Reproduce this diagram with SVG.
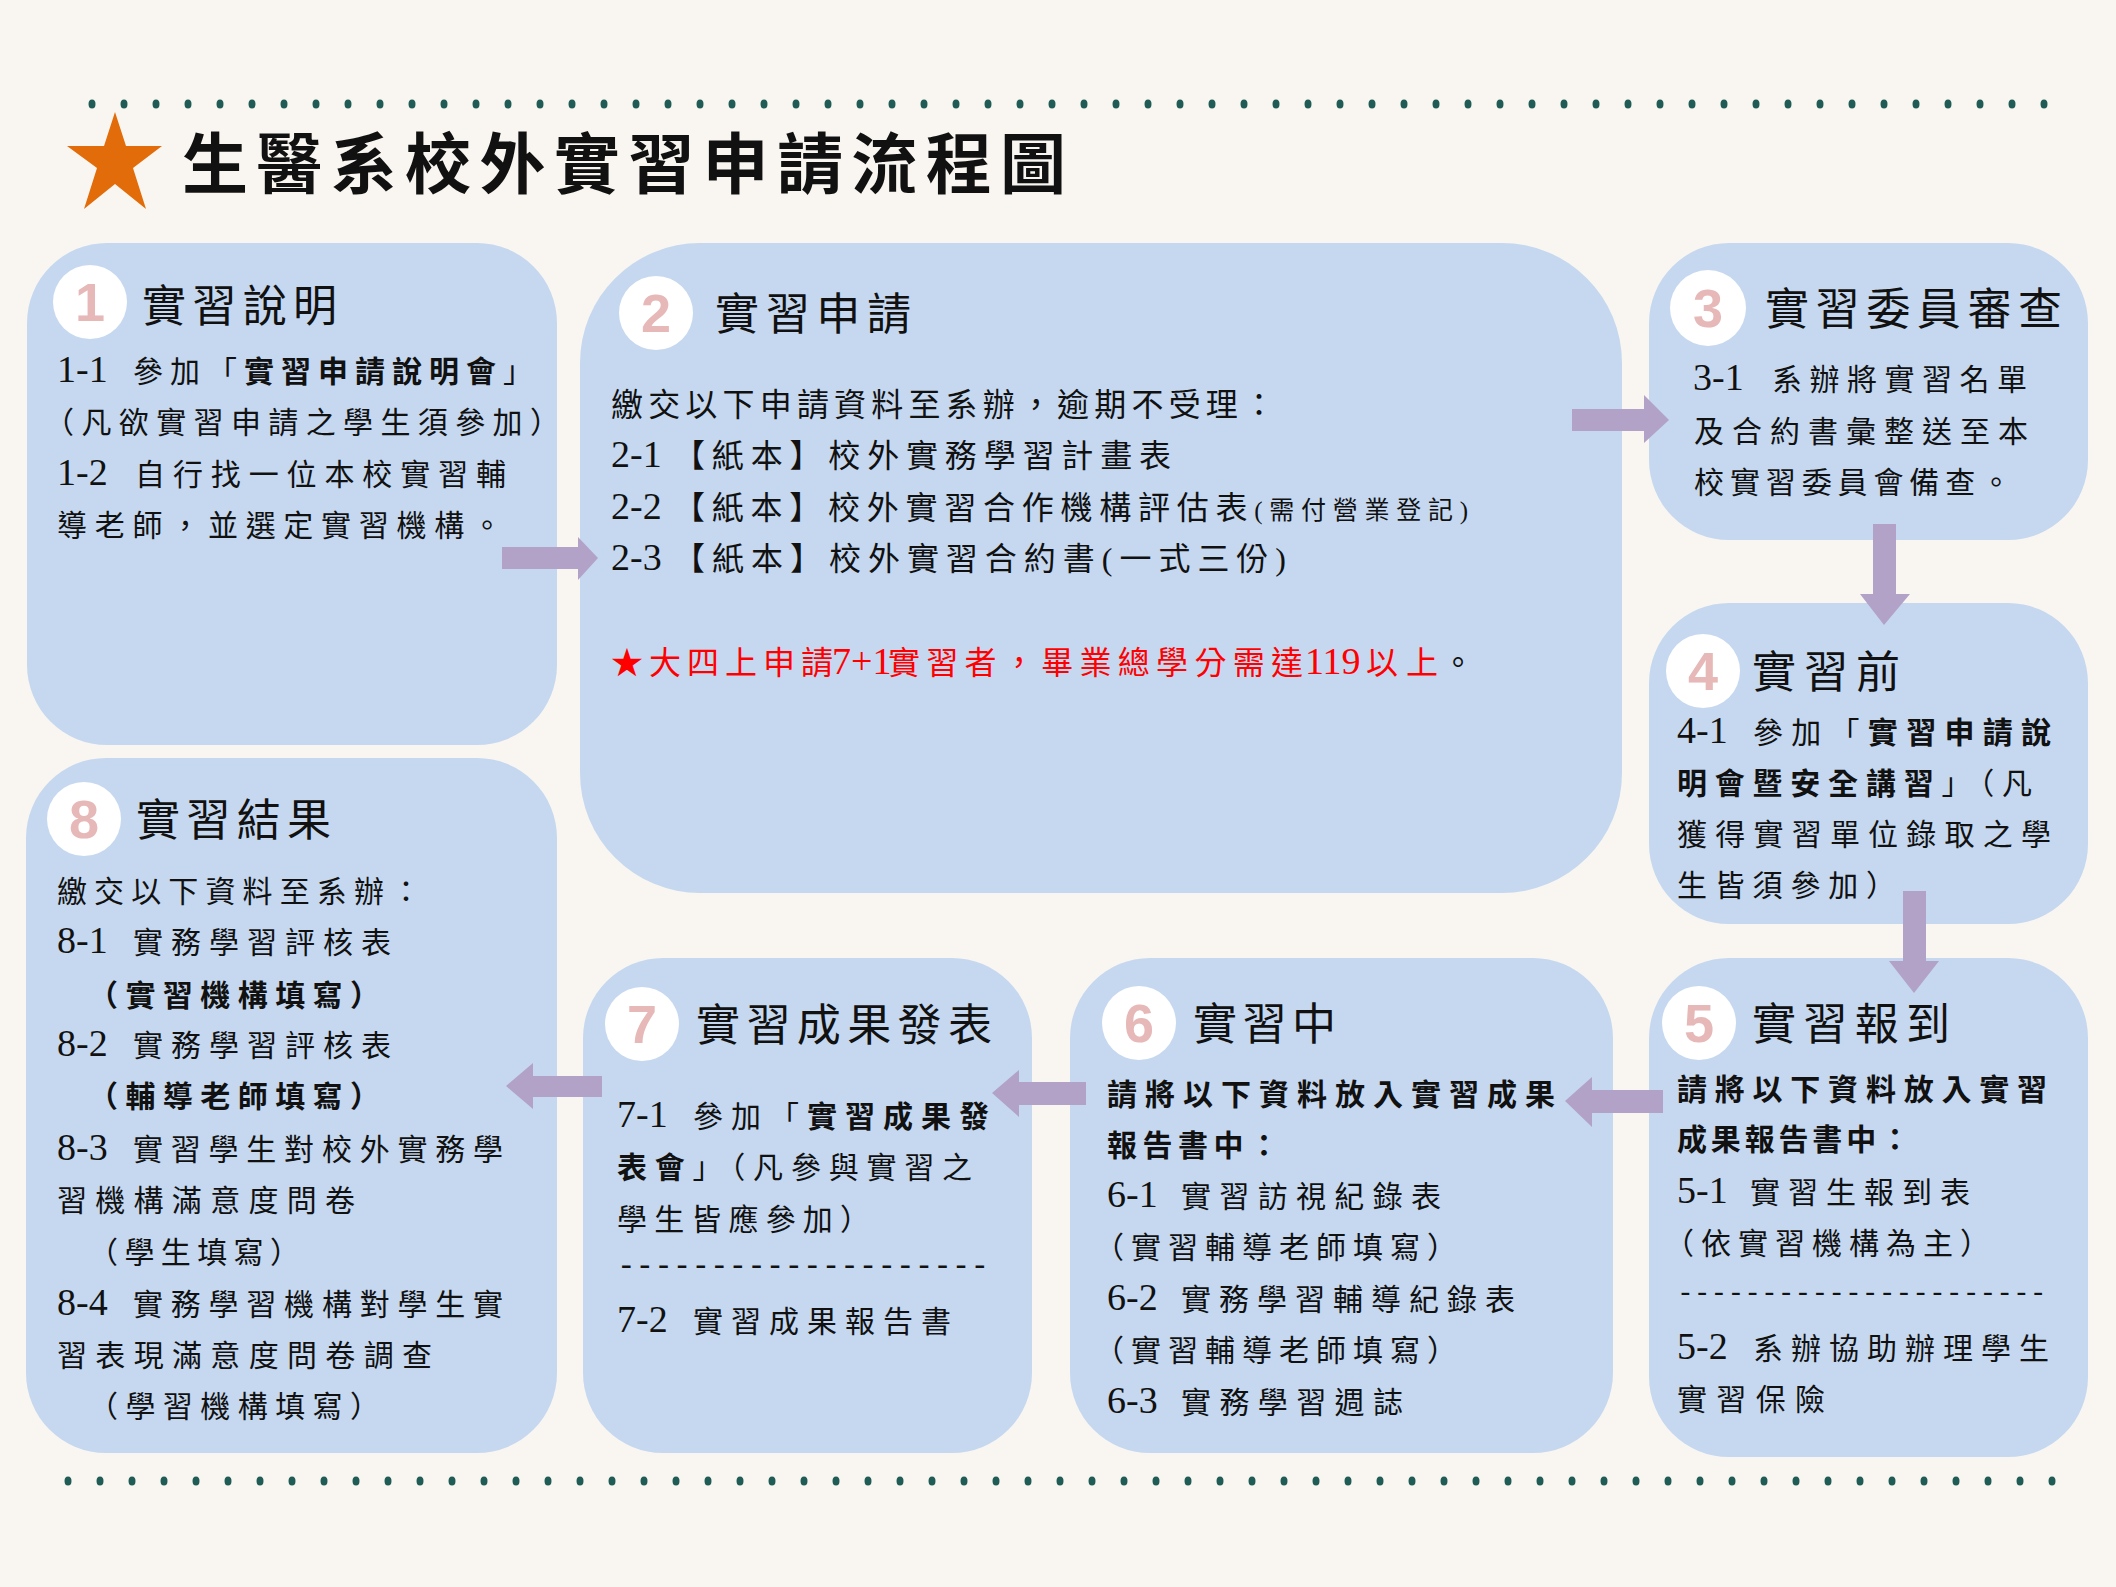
<svg xmlns="http://www.w3.org/2000/svg" width="2116" height="1587" viewBox="0 0 2116 1587">
<defs>
<style>
.bg{fill:#F9F6F1}
.box{fill:#C5D8F0}
.dot{fill:#1F5C55}
.circ{fill:#FFFFFF}
.num{font-family:"Liberation Sans","Noto Sans CJK TC",sans-serif;font-weight:700;font-size:54px;fill:#E6B8B7;text-anchor:middle}
.h{font-family:"Noto Sans CJK TC",sans-serif;font-size:44px;fill:#111}
.t{font-family:"Liberation Serif","Noto Sans CJK TC",serif;font-size:30px;fill:#111}
.t2{font-family:"Liberation Serif","Noto Sans CJK TC",serif;font-size:32px;fill:#111}
.d{font-family:"Liberation Serif",serif;font-size:38px;fill:#111}
.dash{font-family:"Liberation Mono",monospace;fill:#111}
.b{font-weight:700}
.red{fill:#FF0000}
.arr{fill:#B3A2C7}
.title{font-family:"Noto Sans CJK TC",sans-serif;font-size:66px;font-weight:700;fill:#111}
</style>
</defs>
<rect class="bg" x="0" y="0" width="2116" height="1587"/>
<g id="decor">
<g id="toprow" class="dot">
<ellipse cx="92" cy="104" rx="3.5" ry="4.5"/><ellipse cx="124" cy="104" rx="3.5" ry="4.5"/><ellipse cx="156" cy="104" rx="3.5" ry="4.5"/><ellipse cx="188" cy="104" rx="3.5" ry="4.5"/><ellipse cx="220" cy="104" rx="3.5" ry="4.5"/><ellipse cx="252" cy="104" rx="3.5" ry="4.5"/><ellipse cx="284" cy="104" rx="3.5" ry="4.5"/><ellipse cx="316" cy="104" rx="3.5" ry="4.5"/><ellipse cx="348" cy="104" rx="3.5" ry="4.5"/><ellipse cx="380" cy="104" rx="3.5" ry="4.5"/><ellipse cx="412" cy="104" rx="3.5" ry="4.5"/><ellipse cx="444" cy="104" rx="3.5" ry="4.5"/><ellipse cx="476" cy="104" rx="3.5" ry="4.5"/><ellipse cx="508" cy="104" rx="3.5" ry="4.5"/><ellipse cx="540" cy="104" rx="3.5" ry="4.5"/><ellipse cx="572" cy="104" rx="3.5" ry="4.5"/><ellipse cx="604" cy="104" rx="3.5" ry="4.5"/><ellipse cx="636" cy="104" rx="3.5" ry="4.5"/><ellipse cx="668" cy="104" rx="3.5" ry="4.5"/><ellipse cx="700" cy="104" rx="3.5" ry="4.5"/><ellipse cx="732" cy="104" rx="3.5" ry="4.5"/><ellipse cx="764" cy="104" rx="3.5" ry="4.5"/><ellipse cx="796" cy="104" rx="3.5" ry="4.5"/><ellipse cx="828" cy="104" rx="3.5" ry="4.5"/><ellipse cx="860" cy="104" rx="3.5" ry="4.5"/><ellipse cx="892" cy="104" rx="3.5" ry="4.5"/><ellipse cx="924" cy="104" rx="3.5" ry="4.5"/><ellipse cx="956" cy="104" rx="3.5" ry="4.5"/><ellipse cx="988" cy="104" rx="3.5" ry="4.5"/><ellipse cx="1020" cy="104" rx="3.5" ry="4.5"/><ellipse cx="1052" cy="104" rx="3.5" ry="4.5"/><ellipse cx="1084" cy="104" rx="3.5" ry="4.5"/><ellipse cx="1116" cy="104" rx="3.5" ry="4.5"/><ellipse cx="1148" cy="104" rx="3.5" ry="4.5"/><ellipse cx="1180" cy="104" rx="3.5" ry="4.5"/><ellipse cx="1212" cy="104" rx="3.5" ry="4.5"/><ellipse cx="1244" cy="104" rx="3.5" ry="4.5"/><ellipse cx="1276" cy="104" rx="3.5" ry="4.5"/><ellipse cx="1308" cy="104" rx="3.5" ry="4.5"/><ellipse cx="1340" cy="104" rx="3.5" ry="4.5"/><ellipse cx="1372" cy="104" rx="3.5" ry="4.5"/><ellipse cx="1404" cy="104" rx="3.5" ry="4.5"/><ellipse cx="1436" cy="104" rx="3.5" ry="4.5"/><ellipse cx="1468" cy="104" rx="3.5" ry="4.5"/><ellipse cx="1500" cy="104" rx="3.5" ry="4.5"/><ellipse cx="1532" cy="104" rx="3.5" ry="4.5"/><ellipse cx="1564" cy="104" rx="3.5" ry="4.5"/><ellipse cx="1596" cy="104" rx="3.5" ry="4.5"/><ellipse cx="1628" cy="104" rx="3.5" ry="4.5"/><ellipse cx="1660" cy="104" rx="3.5" ry="4.5"/><ellipse cx="1692" cy="104" rx="3.5" ry="4.5"/><ellipse cx="1724" cy="104" rx="3.5" ry="4.5"/><ellipse cx="1756" cy="104" rx="3.5" ry="4.5"/><ellipse cx="1788" cy="104" rx="3.5" ry="4.5"/><ellipse cx="1820" cy="104" rx="3.5" ry="4.5"/><ellipse cx="1852" cy="104" rx="3.5" ry="4.5"/><ellipse cx="1884" cy="104" rx="3.5" ry="4.5"/><ellipse cx="1916" cy="104" rx="3.5" ry="4.5"/><ellipse cx="1948" cy="104" rx="3.5" ry="4.5"/><ellipse cx="1980" cy="104" rx="3.5" ry="4.5"/><ellipse cx="2012" cy="104" rx="3.5" ry="4.5"/><ellipse cx="2044" cy="104" rx="3.5" ry="4.5"/>
</g>
<g id="bottomrow" class="dot">
<ellipse cx="68" cy="1481" rx="3.5" ry="4.5"/><ellipse cx="100" cy="1481" rx="3.5" ry="4.5"/><ellipse cx="132" cy="1481" rx="3.5" ry="4.5"/><ellipse cx="164" cy="1481" rx="3.5" ry="4.5"/><ellipse cx="196" cy="1481" rx="3.5" ry="4.5"/><ellipse cx="228" cy="1481" rx="3.5" ry="4.5"/><ellipse cx="260" cy="1481" rx="3.5" ry="4.5"/><ellipse cx="292" cy="1481" rx="3.5" ry="4.5"/><ellipse cx="324" cy="1481" rx="3.5" ry="4.5"/><ellipse cx="356" cy="1481" rx="3.5" ry="4.5"/><ellipse cx="388" cy="1481" rx="3.5" ry="4.5"/><ellipse cx="420" cy="1481" rx="3.5" ry="4.5"/><ellipse cx="452" cy="1481" rx="3.5" ry="4.5"/><ellipse cx="484" cy="1481" rx="3.5" ry="4.5"/><ellipse cx="516" cy="1481" rx="3.5" ry="4.5"/><ellipse cx="548" cy="1481" rx="3.5" ry="4.5"/><ellipse cx="580" cy="1481" rx="3.5" ry="4.5"/><ellipse cx="612" cy="1481" rx="3.5" ry="4.5"/><ellipse cx="644" cy="1481" rx="3.5" ry="4.5"/><ellipse cx="676" cy="1481" rx="3.5" ry="4.5"/><ellipse cx="708" cy="1481" rx="3.5" ry="4.5"/><ellipse cx="740" cy="1481" rx="3.5" ry="4.5"/><ellipse cx="772" cy="1481" rx="3.5" ry="4.5"/><ellipse cx="804" cy="1481" rx="3.5" ry="4.5"/><ellipse cx="836" cy="1481" rx="3.5" ry="4.5"/><ellipse cx="868" cy="1481" rx="3.5" ry="4.5"/><ellipse cx="900" cy="1481" rx="3.5" ry="4.5"/><ellipse cx="932" cy="1481" rx="3.5" ry="4.5"/><ellipse cx="964" cy="1481" rx="3.5" ry="4.5"/><ellipse cx="996" cy="1481" rx="3.5" ry="4.5"/><ellipse cx="1028" cy="1481" rx="3.5" ry="4.5"/><ellipse cx="1060" cy="1481" rx="3.5" ry="4.5"/><ellipse cx="1092" cy="1481" rx="3.5" ry="4.5"/><ellipse cx="1124" cy="1481" rx="3.5" ry="4.5"/><ellipse cx="1156" cy="1481" rx="3.5" ry="4.5"/><ellipse cx="1188" cy="1481" rx="3.5" ry="4.5"/><ellipse cx="1220" cy="1481" rx="3.5" ry="4.5"/><ellipse cx="1252" cy="1481" rx="3.5" ry="4.5"/><ellipse cx="1284" cy="1481" rx="3.5" ry="4.5"/><ellipse cx="1316" cy="1481" rx="3.5" ry="4.5"/><ellipse cx="1348" cy="1481" rx="3.5" ry="4.5"/><ellipse cx="1380" cy="1481" rx="3.5" ry="4.5"/><ellipse cx="1412" cy="1481" rx="3.5" ry="4.5"/><ellipse cx="1444" cy="1481" rx="3.5" ry="4.5"/><ellipse cx="1476" cy="1481" rx="3.5" ry="4.5"/><ellipse cx="1508" cy="1481" rx="3.5" ry="4.5"/><ellipse cx="1540" cy="1481" rx="3.5" ry="4.5"/><ellipse cx="1572" cy="1481" rx="3.5" ry="4.5"/><ellipse cx="1604" cy="1481" rx="3.5" ry="4.5"/><ellipse cx="1636" cy="1481" rx="3.5" ry="4.5"/><ellipse cx="1668" cy="1481" rx="3.5" ry="4.5"/><ellipse cx="1700" cy="1481" rx="3.5" ry="4.5"/><ellipse cx="1732" cy="1481" rx="3.5" ry="4.5"/><ellipse cx="1764" cy="1481" rx="3.5" ry="4.5"/><ellipse cx="1796" cy="1481" rx="3.5" ry="4.5"/><ellipse cx="1828" cy="1481" rx="3.5" ry="4.5"/><ellipse cx="1860" cy="1481" rx="3.5" ry="4.5"/><ellipse cx="1892" cy="1481" rx="3.5" ry="4.5"/><ellipse cx="1924" cy="1481" rx="3.5" ry="4.5"/><ellipse cx="1956" cy="1481" rx="3.5" ry="4.5"/><ellipse cx="1988" cy="1481" rx="3.5" ry="4.5"/><ellipse cx="2020" cy="1481" rx="3.5" ry="4.5"/><ellipse cx="2052" cy="1481" rx="3.5" ry="4.5"/>
</g>
<polygon id="star" fill="#E36C0A" points="115,112 126,146 162,146 133,168 146,209 115,184 84,209 97,168 67,146 104,146"/>
<text id="title" class="title" x="182" y="188" textLength="884" lengthAdjust="spacing">生醫系校外實習申請流程圖</text>
</g>

<g id="node1">
<rect class="box" x="27" y="243" width="530" height="502" rx="80"/>
<circle class="circ" cx="90" cy="302" r="37"/>
<text class="num" x="90" y="321">1</text>
<text class="h" x="142" y="322" textLength="195" lengthAdjust="spacing">實習說明</text>
<text class="d" x="57" y="382">1-1</text>
<text class="t" x="133" y="382" textLength="400" lengthAdjust="spacing">參加「<tspan class="b">實習申請說明會</tspan>」</text>
<text class="t" x="44" y="433" textLength="516" lengthAdjust="spacing">（凡欲實習申請之學生須參加）</text>
<text class="d" x="57" y="485">1-2</text>
<text class="t" x="135" y="485" textLength="371" lengthAdjust="spacing">自行找一位本校實習輔</text>
<text class="t" x="57" y="536" textLength="445" lengthAdjust="spacing">導老師，並選定實習機構。</text>
</g>

<g id="node2">
<rect class="box" x="580" y="243" width="1042" height="650" rx="120"/>
<circle class="circ" cx="656" cy="313" r="37"/>
<text class="num" x="656" y="332">2</text>
<text class="h" x="715" y="330" textLength="196" lengthAdjust="spacing">實習申請</text>
<text class="t2" x="611" y="416" textLength="664" lengthAdjust="spacing">繳交以下申請資料至系辦，逾期不受理：</text>
<text class="d" x="611" y="467">2-1</text>
<text class="t2" x="673" y="467" textLength="498" lengthAdjust="spacing">【紙本】校外實務學習計畫表</text>
<text class="d" x="611" y="519">2-2</text>
<text class="t2" x="673" y="519" textLength="795" lengthAdjust="spacing">【紙本】校外實習合作機構評估表<tspan font-size="25">(需付營業登記)</tspan></text>
<text class="d" x="611" y="570">2-3</text>
<text class="t2" x="673" y="570" textLength="613" lengthAdjust="spacing">【紙本】校外實習合約書(一式三份)</text>
<text class="t2 red" x="611" y="674" textLength="222" lengthAdjust="spacing">★大四上申請</text>
<text class="d red" x="832" y="674">7+1</text>
<text class="t2 red" x="888" y="674" textLength="415" lengthAdjust="spacing">實習者，畢業總學分需達</text>
<text class="d red" x="1305" y="674">119</text>
<text class="t2 red" x="1366" y="674" textLength="72" lengthAdjust="spacing">以上</text>
<text class="t2" x="1442" y="674" fill="#A0522D">。</text>
</g>

<g id="node3">
<rect class="box" x="1649" y="243" width="439" height="297" rx="80"/>
<circle class="circ" cx="1708" cy="308" r="38"/>
<text class="num" x="1708" y="327">3</text>
<text class="h" x="1765" y="325" textLength="297" lengthAdjust="spacing">實習委員審查</text>
<text class="d" x="1693" y="390" font-size="34">3-1</text>
<text class="t" x="1772" y="390" textLength="255" lengthAdjust="spacing">系辦將實習名單</text>
<text class="t" x="1694" y="442" textLength="334" lengthAdjust="spacing">及合約書彙整送至本</text>
<text class="t" x="1694" y="493" textLength="317" lengthAdjust="spacing">校實習委員會備查。</text>
</g>

<g id="node4">
<rect class="box" x="1649" y="603" width="439" height="321" rx="80"/>
<circle class="circ" cx="1703" cy="671" r="37"/>
<text class="num" x="1703" y="690">4</text>
<text class="h" x="1752" y="688" textLength="148" lengthAdjust="spacing">實習前</text>
<text class="d" x="1677" y="743">4-1</text>
<text class="t" x="1753" y="743" textLength="298" lengthAdjust="spacing">參加「<tspan class="b">實習申請說</tspan></text>
<text class="t" x="1677" y="794" textLength="355" lengthAdjust="spacing"><tspan class="b">明會暨安全講習</tspan>」（凡</text>
<text class="t" x="1677" y="845" textLength="374" lengthAdjust="spacing">獲得實習單位錄取之學</text>
<text class="t" x="1677" y="896" textLength="219" lengthAdjust="spacing">生皆須參加）</text>
</g>

<g id="node5">
<rect class="box" x="1649" y="958" width="439" height="499" rx="80"/>
<circle class="circ" cx="1699" cy="1023" r="37"/>
<text class="num" x="1699" y="1042">5</text>
<text class="h" x="1752" y="1040" textLength="198" lengthAdjust="spacing">實習報到</text>
<text class="t b" x="1677" y="1100" textLength="370" lengthAdjust="spacing">請將以下資料放入實習</text>
<text class="t b" x="1677" y="1150" textLength="233" lengthAdjust="spacing">成果報告書中：</text>
<text class="d" x="1677" y="1203">5-1</text>
<text class="t" x="1750" y="1203" textLength="220" lengthAdjust="spacing">實習生報到表</text>
<text class="t" x="1664" y="1254" textLength="326" lengthAdjust="spacing">（依實習機構為主）</text>
<text class="dash" x="1677" y="1301" font-size="28">----------------------</text>
<text class="d" x="1677" y="1359">5-2</text>
<text class="t" x="1753" y="1359" textLength="296" lengthAdjust="spacing">系辦協助辦理學生</text>
<text class="t" x="1677" y="1410" textLength="148" lengthAdjust="spacing">實習保險</text>
</g>

<g id="node6">
<rect class="box" x="1070" y="958" width="543" height="495" rx="80"/>
<circle class="circ" cx="1139" cy="1023" r="37"/>
<text class="num" x="1139" y="1042">6</text>
<text class="h" x="1193" y="1040" textLength="143" lengthAdjust="spacing">實習中</text>
<text class="t b" x="1107" y="1105" textLength="448" lengthAdjust="spacing">請將以下資料放入實習成果</text>
<text class="t b" x="1107" y="1156" textLength="172" lengthAdjust="spacing">報告書中：</text>
<text class="d" x="1107" y="1207">6-1</text>
<text class="t" x="1181" y="1207" textLength="260" lengthAdjust="spacing">實習訪視紀錄表</text>
<text class="t" x="1094" y="1258" textLength="363" lengthAdjust="spacing">（實習輔導老師填寫）</text>
<text class="d" x="1107" y="1310">6-2</text>
<text class="t" x="1181" y="1310" textLength="334" lengthAdjust="spacing">實務學習輔導紀錄表</text>
<text class="t" x="1094" y="1361" textLength="363" lengthAdjust="spacing">（實習輔導老師填寫）</text>
<text class="d" x="1107" y="1413">6-3</text>
<text class="t" x="1181" y="1413" textLength="222" lengthAdjust="spacing">實務學習週誌</text>
</g>

<g id="node7">
<rect class="box" x="583" y="958" width="449" height="495" rx="80"/>
<circle class="circ" cx="642" cy="1024" r="37"/>
<text class="num" x="642" y="1043">7</text>
<text class="h" x="696" y="1041" textLength="296" lengthAdjust="spacing">實習成果發表</text>
<text class="d" x="617" y="1127">7-1</text>
<text class="t" x="693" y="1127" textLength="296" lengthAdjust="spacing">參加「<tspan class="b">實習成果發</tspan></text>
<text class="t" x="617" y="1178" textLength="355" lengthAdjust="spacing"><tspan class="b">表會</tspan>」（凡參與實習之</text>
<text class="t" x="617" y="1230" textLength="253" lengthAdjust="spacing">學生皆應參加）</text>
<text class="dash" x="617" y="1275" font-size="31">--------------------</text>
<text class="d" x="617" y="1332">7-2</text>
<text class="t" x="693" y="1332" textLength="258" lengthAdjust="spacing">實習成果報告書</text>
</g>

<g id="node8">
<rect class="box" x="26" y="758" width="531" height="695" rx="80"/>
<circle class="circ" cx="84" cy="819" r="37"/>
<text class="num" x="84" y="838">8</text>
<text class="h" x="136" y="836" textLength="195" lengthAdjust="spacing">實習結果</text>
<text class="t" x="57" y="902" textLength="364" lengthAdjust="spacing">繳交以下資料至系辦：</text>
<text class="d" x="57" y="953">8-1</text>
<text class="t" x="133" y="953" textLength="258" lengthAdjust="spacing">實務學習評核表</text>
<text class="t b" x="88" y="1006" textLength="292" lengthAdjust="spacing">（實習機構填寫）</text>
<text class="d" x="57" y="1056">8-2</text>
<text class="t" x="133" y="1056" textLength="258" lengthAdjust="spacing">實務學習評核表</text>
<text class="t b" x="88" y="1107" textLength="292" lengthAdjust="spacing">（輔導老師填寫）</text>
<text class="d" x="57" y="1160">8-3</text>
<text class="t" x="133" y="1160" textLength="370" lengthAdjust="spacing">實習學生對校外實務學</text>
<text class="t" x="57" y="1211" textLength="298" lengthAdjust="spacing">習機構滿意度問卷</text>
<text class="t" x="88" y="1263" textLength="212" lengthAdjust="spacing">（學生填寫）</text>
<text class="d" x="57" y="1315">8-4</text>
<text class="t" x="133" y="1315" textLength="370" lengthAdjust="spacing">實務學習機構對學生實</text>
<text class="t" x="57" y="1366" textLength="375" lengthAdjust="spacing">習表現滿意度問卷調查</text>
<text class="t" x="88" y="1417" textLength="292" lengthAdjust="spacing">（學習機構填寫）</text>
</g>

<g id="connectors" class="arr">
<polygon points="502,547 578,547 578,537 598,558 578,580 578,569 502,569"/>
<polygon points="1572,409 1644,409 1644,395 1669,420 1644,443 1644,431 1572,431"/>
<polygon points="1873,524 1896,524 1896,594 1910,594 1884,625 1860,594 1873,594"/>
<polygon points="1903,891 1926,891 1926,961 1939,961 1914,993 1889,961 1903,961"/>
<polygon points="1663,1090 1592,1090 1592,1077 1565,1101 1592,1127 1592,1113 1663,1113"/>
<polygon points="1086,1082 1019,1082 1019,1070 992,1093 1019,1117 1019,1105 1086,1105"/>
<polygon points="602,1076 533,1076 533,1063 506,1086 533,1109 533,1097 602,1097"/>
</g>
</svg>
